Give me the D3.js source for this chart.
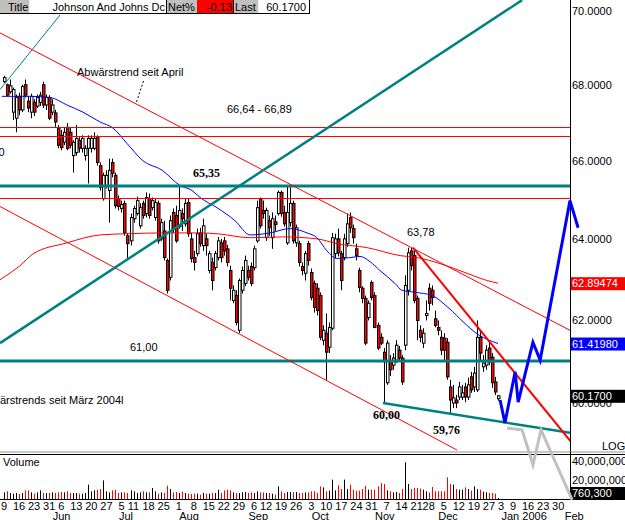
<!DOCTYPE html>
<html><head><meta charset="utf-8">
<script src="https://cdn.jsdelivr.net/npm/d3@7"></script>
<style>
body{margin:0;background:#fff}
svg{display:block}
text{font-family:"Liberation Sans",Arial,sans-serif;font-size:11px}
.serifb{font-family:"Liberation Serif","Times New Roman",serif;font-weight:bold;font-size:12px}
</style>
</head><body>
<svg id="c" width="625" height="520"></svg>
<script>
// ---------- DATA (trading-day index 0 = 9 May 2005) ----------
const opens = [68.08,68.00,67.81,67.27,67.11,67.69,67.33,68.00,67.56,67.27,67.53,67.43,67.53,68.00,67.46,67.66,67.27,67.25,66.85,66.66,
66.48,66.87,66.74,66.13,66.21,66.53,66.32,66.13,66.32,66.32,66.32,66.61,65.87,65.02,65.36,65.23,65.95,65.62,65.02,64.77,
64.90,64.08,63.95,64.51,64.64,64.33,64.90,64.64,65.02,64.79,64.54,64.90,64.00,64.20,63.46,63.04,64.67,64.59,64.31,64.64,
64.38,64.92,64.00,63.53,63.63,64.15,63.83,64.00,63.21,63.41,63.28,63.53,63.90,63.95,63.75,63.21,62.47,62.59,61.74,62.72,
62.89,63.21,63.31,63.28,63.95,65.00,64.72,64.03,64.46,64.03,64.43,64.64,65.18,64.67,63.90,64.41,64.90,63.90,63.88,63.31,
63.14,63.88,63.16,62.89,62.77,62.59,61.50,61.67,61.33,61.79,63.63,64.00,63.63,63.53,63.88,64.54,64.26,63.75,63.21,62.77,
62.52,62.05,62.91,62.59,61.86,61.57,61.21,60.48,60.98,60.90,61.02,61.26,61.07,61.38,62.72,63.70,63.58,62.52,61.74,61.43,
62.10,62.77,62.72,62.02,61.81,61.57,61.55,61.45,60.38,60.00,60.07,60.14,60.14,60.38,60.14,60.62,60.38,60.31,61.57,60.86,
60.90,61.31,61.09,60.50,60.10];
const highs = [68.24,68.03,68.14,67.92,67.74,67.79,68.00,68.14,67.69,67.76,67.61,67.74,67.81,68.08,67.74,67.72,67.61,67.33,66.93,66.80,
66.85,66.98,66.85,66.53,66.93,66.61,66.66,66.40,66.66,66.66,66.74,66.66,65.95,65.69,65.75,66.05,66.05,65.69,65.10,64.97,
64.97,64.15,64.64,64.84,65.07,64.90,64.97,65.18,65.15,65.05,65.02,64.97,64.51,64.46,63.51,64.59,64.77,64.84,65.36,64.77,
65.02,65.02,64.15,63.70,64.26,64.28,64.51,64.13,63.70,63.53,63.70,64.05,64.00,64.05,63.85,63.33,62.84,62.72,63.01,63.31,
63.58,63.33,63.41,63.83,64.97,65.05,64.97,64.79,64.59,64.67,64.59,65.23,65.23,64.84,65.36,65.36,64.97,64.36,63.95,63.41,
63.70,63.95,63.26,62.96,62.89,62.67,61.86,62.15,61.93,64.15,64.13,64.26,63.70,64.13,64.64,64.67,64.36,63.88,63.28,62.82,
62.59,62.47,62.96,62.67,61.93,61.67,61.31,61.50,61.14,61.19,61.50,61.36,61.14,63.09,63.78,63.78,63.70,62.59,61.86,61.79,
62.47,62.89,62.84,62.22,61.98,61.74,61.67,61.55,60.55,60.43,60.19,60.50,60.43,60.48,60.60,60.74,60.86,61.98,61.74,61.14,
61.38,61.45,61.19,60.62,60.19];
const lows = [68.05,67.69,67.76,67.06,66.74,67.19,67.27,67.66,67.27,67.11,67.17,67.38,67.43,67.38,67.33,67.06,67.19,66.87,66.32,66.27,
66.40,66.27,66.32,65.69,66.13,66.21,66.21,66.00,65.41,66.21,66.27,65.87,65.23,64.97,65.28,64.41,65.57,64.77,64.72,64.67,
64.08,63.51,63.83,64.41,64.59,64.26,64.51,64.54,64.51,64.72,64.46,63.88,63.95,63.46,62.64,62.96,64.15,63.90,64.26,64.20,
64.31,64.05,63.41,63.21,63.56,63.80,63.70,63.58,63.14,62.72,63.21,63.46,63.41,63.58,63.31,62.47,62.40,61.86,61.67,62.64,
62.82,62.96,62.82,63.21,63.90,64.26,64.51,63.95,64.08,63.75,64.20,64.59,64.56,64.31,63.85,64.31,63.88,63.80,63.31,63.09,
62.96,63.33,62.47,62.17,62.10,61.50,61.38,60.55,61.19,61.74,63.51,63.56,62.72,63.46,63.80,64.15,63.88,63.46,62.67,62.40,
61.38,61.98,62.47,61.79,61.26,61.38,60.00,60.43,60.64,60.79,60.95,60.98,60.43,61.26,62.59,63.21,62.40,61.50,61.45,61.31,
61.98,62.22,62.35,61.81,61.62,61.14,61.02,60.55,59.76,59.88,59.88,60.07,60.07,60.02,60.07,60.24,60.26,60.26,61.02,60.74,
60.79,60.90,60.36,60.19,60.05];
const closes = [68.19,67.72,67.97,67.87,67.66,67.33,67.95,67.72,67.38,67.69,67.27,67.66,67.72,67.46,67.66,67.11,67.46,67.01,66.40,66.34,
66.74,66.32,66.40,66.48,66.58,66.32,66.58,66.32,66.58,66.58,66.58,65.95,65.31,65.62,65.62,65.75,65.67,64.84,64.82,64.87,
64.15,63.88,64.54,64.77,64.97,64.79,64.59,65.05,64.59,64.97,64.92,63.95,64.41,63.53,62.72,64.46,64.26,63.95,64.72,64.51,
64.90,64.13,63.51,63.41,64.13,63.88,64.33,63.83,63.63,62.96,63.63,63.95,63.53,63.70,63.41,62.77,62.72,61.93,62.96,63.21,
63.46,63.04,62.89,63.75,64.79,64.33,64.64,64.72,64.28,64.51,64.36,65.18,64.64,64.38,64.67,64.90,63.95,64.28,63.41,63.21,
63.63,63.46,62.54,62.30,62.22,61.57,61.74,61.21,61.81,64.03,64.00,63.65,62.96,64.00,64.38,64.28,64.03,63.58,62.79,62.52,
61.43,62.40,62.54,61.81,61.31,61.43,60.98,61.43,60.79,61.07,61.38,61.07,60.50,62.84,63.65,63.33,62.47,61.98,61.57,61.67,
62.15,62.40,62.54,61.86,61.74,61.26,61.26,60.62,60.07,60.12,60.00,60.38,60.24,60.14,60.43,60.31,60.71,61.57,61.19,60.95,
61.26,60.98,60.48,60.26,60.17];
// volume in millions of shares
const volumes = [7.0,8.1,6.3,5.6,6.3,5.3,6.3,9.1,9.1,7.0,5.6,7.0,9.1,6.3,6.3,6.3,7.0,6.3,7.0,7.4,
7.0,8.1,6.3,6.3,6.3,5.6,5.6,6.3,15.1,8.1,9.1,9.8,10.5,19.6,8.1,7.0,9.1,9.8,6.3,7.0,
7.0,6.3,9.1,8.1,6.3,7.0,8.1,7.0,7.0,11.6,8.1,5.6,7.0,6.3,14.0,10.5,7.0,7.4,6.3,7.7,
6.3,5.6,5.3,5.6,5.6,4.6,6.3,5.6,5.6,6.3,6.3,9.8,6.3,9.1,9.8,9.1,7.0,6.3,6.3,7.0,
7.4,6.3,7.0,6.3,8.1,7.0,7.0,6.3,6.3,5.6,4.6,13.3,8.1,6.3,7.4,7.4,7.4,7.4,6.3,6.3,
7.0,7.0,8.1,8.1,6.3,13.3,12.3,8.1,8.8,20.4,9.1,14.4,10.5,20.4,10.5,15.1,9.8,8.8,8.8,10.5,
14.0,9.8,9.8,9.8,13.3,16.8,15.8,9.1,8.1,7.0,7.4,6.3,10.5,38.6,15.8,10.5,11.6,11.6,10.9,9.8,
8.1,7.0,12.6,8.1,8.1,8.1,8.1,22.8,15.8,15.1,10.5,9.8,9.8,12.3,10.5,8.8,13.3,10.5,9.8,7.7,
7.0,6.3,6.3,5.6,0.7603];
// moving averages: [trading-day index, price]
const maBlue = [[-0.7,67.69],[8.6,67.69],[15.3,67.66],[20.9,67.46],[26.2,67.27],[31.9,67.01],[36.2,66.85],[40.8,66.45],[46.1,66.00],
[52.5,65.75],[58.4,65.36],[62.4,65.23],[65.1,65.05],[70.7,64.79],[76.7,64.46],[81.7,64.10],[88.3,64.15],[95,64.26],[100.6,64.15],
[103.9,64.03],[107.2,63.70],[110.6,63.51],[114.9,63.53],[118.2,63.56],[121.5,63.43],[124.8,63.21],[129.8,62.89],[132.1,62.72],
[136.5,62.67],[142.1,62.59],[147.4,62.30],[153.1,61.90],[156.4,61.69],[164,61.4198]];
const maRed = [[-1.3,62.98],[5.3,63.33],[9.6,63.62],[20.9,63.90],[31.9,64.10],[40.8,64.13],[54.1,64.15],[65.1,64.15],[70.7,64.13],
[81.7,64.03],[92.6,64.05],[103.9,64.00],[110.6,63.88],[120.5,63.78],[131.5,63.58],[137.1,63.53],[144.8,63.38],[153.7,63.14],
[160.4,62.96],[164,62.89474]];
// horizontal levels
const redLevels = [66.89, 66.64, 65.03];
const tealLevels = [65.35, 61.00];
// drawn trendlines: [index, price] end points
const trendTealThin = [[-1.33,67.87],[18.6,69.89]];
const trendTealUp   = [[-1.33,61.43],[172,70.30]];
const trendRedUpper = [[-1.33,69.40],[187.9,61.74]];
const trendRedLower = [[-1.33,64.82],[150.4,58.90]];
const trendRedThick = [[135.8,63.78],[188.6,59.06]];
const trendTealLow  = [[125.8,60.00],[187.9,59.30]];
// projections
const projBlue = [[164.7,60.07],[166.3,59.53],[169.7,60.74],[170.7,60.02],[175.6,61.45],[178,61.02],[187.9,64.97],[190.6,64.28]];
const projGray = [[167,59.41],[172,59.37],[175.6,58.56],[178.3,59.37],[188.6,57.76]];
// axes
const priceTicks = [70,68,66,64,62,60];
const volTicks = [40,20];
const dayTickIdx = [0,5,10,15,19,24,29,34,39,43,48,53,58,63,68,73,78,83,87,92,97,102,107,112,117,122,127,132,137,141,146,151,156,161,165,169,174,179,184];
const dayTickLabels = ["9","16","23","31","6","13","20","27","5","11","18","25","1","8","15","22","29","6","12","19","26","3","10","17","24","31","7","14","21","28","5","12","19","27","3","9","16","23","30"];
const monthIdx = [16,38,58,81,102,123,144,165,186];
const monthLabels = ["Jun","Jul","Aug","Sep","Oct","Nov","Dec","Jan 2006","Feb"];
const header = {title:"Johnson And Johns Dc", net:"-0.13", last:"60.1700"};
const lastVolLabel = "760,300";

// ---------- DRAW ----------
const svg = d3.select('#c');
const x = d3.scaleLinear().domain([0,165]).range([4,501]);
const y = d3.scaleLog().domain([70,60]).range([11,403]);
const yv = d3.scaleLinear().domain([0,40]).range([499,461]);
const RED="#ff0000", TEAL="#008080", BLUE="#0000ff";
const line = d3.line().x(d=>x(d[0])).y(d=>y(d[1]));

svg.append('defs').append('clipPath').attr('id','plot')
  .append('rect').attr('x',0).attr('y',0).attr('width',570).attr('height',451);

const plot = svg.append('g').attr('clip-path','url(#plot)');

// candles
const n = closes.length;
const cg = plot.append('g');
for(let i=0;i<n;i++){
  const cx = Math.round(x(i));
  const up = closes[i] >= opens[i];
  cg.append('line').attr('x1',cx+0.5).attr('x2',cx+0.5)
    .attr('y1',y(highs[i])).attr('y2',y(lows[i])).attr('stroke','#000').attr('stroke-width',1);
  const top = y(Math.max(opens[i],closes[i])), bot = y(Math.min(opens[i],closes[i]));
  cg.append('rect').attr('x',cx-0.5).attr('width',2.5)
    .attr('y',top).attr('height',Math.max(1,bot-top))
    .attr('fill', up ? '#fff' : RED).attr('stroke','#000').attr('stroke-width',1);
}

// moving averages
plot.append('path').datum(maRed).attr('d',line.curve(d3.curveMonotoneX)).attr('fill','none').attr('stroke',RED).attr('stroke-width',1);
plot.append('path').datum(maBlue).attr('d',line.curve(d3.curveMonotoneX)).attr('fill','none').attr('stroke',BLUE).attr('stroke-width',1);
line.curve(d3.curveLinear);

// horizontal levels
redLevels.forEach(v=>{
  const yy = Math.round(y(v))+0.5;
  plot.append('line').attr('x1',0).attr('x2',570).attr('y1',yy).attr('y2',yy).attr('stroke',RED).attr('stroke-width',1);
});
tealLevels.forEach(v=>{
  const yy = Math.round(y(v));
  plot.append('line').attr('x1',0).attr('x2',570).attr('y1',yy).attr('y2',yy).attr('stroke',TEAL).attr('stroke-width',3);
});

// trendlines
const tl = (d,c,w)=>plot.append('path').datum(d).attr('d',line).attr('fill','none').attr('stroke',c).attr('stroke-width',w);
tl(trendTealThin,TEAL,1);
tl(trendRedUpper,RED,1);
tl(trendRedLower,RED,1);
tl(trendTealUp,TEAL,2.5);
tl(trendTealLow,TEAL,2.5);
tl(trendRedThick,RED,2);

// annotations
const T = (tx,ty,s,cls,anchor)=>svg.append('text').attr('x',tx).attr('y',ty).text(s)
   .attr('class',cls||null).attr('text-anchor',anchor||'start').attr('fill','#000');
T(77,76,"Abwärstrend seit April");
svg.append('line').attr('x1',143.5).attr('y1',81).attr('x2',136.5).attr('y2',102)
  .attr('stroke','#000').attr('stroke-width',1).attr('stroke-dasharray','2,2');
T(227,113,"66,64 - 66,89");
T(193,177,"65,35","serifb");
T(407,236,"63,78");
T(130,351,"61,00");
T(0,404,"ärstrends seit März 2004l");
T(4.5,156,"0",null,"end");
T(373,419,"60,00","serifb");
T(433,434,"59,76","serifb");

// panel separators
svg.append('line').attr('x1',0).attr('x2',625).attr('y1',452).attr('y2',452).attr('stroke','#c8c8c8').attr('stroke-width',2);
svg.append('line').attr('x1',0).attr('x2',625).attr('y1',454.5).attr('y2',454.5).attr('stroke','#000').attr('stroke-width',1);
svg.append('line').attr('x1',570.5).attr('x2',570.5).attr('y1',0).attr('y2',500).attr('stroke','#000').attr('stroke-width',1);
svg.append('line').attr('x1',0).attr('x2',570).attr('y1',499.5).attr('y2',499.5).attr('stroke','#000').attr('stroke-width',1);
T(602,450,"LOG");

// volume bars
for(let i=0;i<n;i++){
  const cx = Math.round(x(i))+0.5;
  svg.append('line').attr('x1',cx).attr('x2',cx).attr('y1',yv(0)).attr('y2',Math.min(yv(0)-1,yv(volumes[i])))
    .attr('stroke', closes[i] < opens[i] ? RED : '#000').attr('stroke-width',1);
}
T(3,466,"Volume");

// right price axis
priceTicks.forEach(v=>T(572,y(v)+4,v.toFixed(4)));
volTicks.forEach(v=>T(572,yv(v)+4,d3.format(",")(v*1e6)));
const box = (yy,bg,s)=>{
  svg.append('rect').attr('x',571).attr('y',yy-6).attr('width',54).attr('height',13).attr('fill',bg);
  svg.append('text').attr('x',572).attr('y',yy+4).text(s).attr('fill','#fff');
};
box(y(maRed[maRed.length-1][1]),RED,maRed[maRed.length-1][1].toFixed(5));
box(y(maBlue[maBlue.length-1][1]),BLUE,maBlue[maBlue.length-1][1].toFixed(5));
box(y(closes[n-1]),'#000',closes[n-1].toFixed(4));
box(Math.min(yv(volumes[n-1]),493),'#000',lastVolLabel);

// projections (unclipped, on top of the panel separators)
svg.append('path').datum(projGray).attr('d',line).attr('fill','none').attr('stroke','#c0c0c0').attr('stroke-width',3);
svg.append('path').datum(projBlue).attr('d',line).attr('fill','none').attr('stroke',BLUE).attr('stroke-width',3);

// x axis labels
dayTickIdx.forEach((d,k)=>T(x(d),510,dayTickLabels[k],null,'middle'));
monthIdx.forEach((d,k)=>T(x(d)+0.5,520,monthLabels[k]));

// header
const hdr = svg.append('g');
const cell=(x0,w,bg)=>hdr.append('rect').attr('x',x0).attr('y',0).attr('width',w).attr('height',13.5).attr('fill',bg);
cell(0,29.5,'#c0c0c0'); cell(29.5,137.5,'#fff'); cell(167,30,'#c0c0c0'); cell(197,36.5,RED);
cell(234,24.5,'#c0c0c0'); cell(258.5,51,'#fff');
T(8,11,"Title");
T(165,11,header.title,null,'end');
T(168,11,"Net%");
T(232,11,header.net,null,'end');
T(235,11,"Last");
T(306,11,header.last,null,'end');
[166.5,233.5].forEach(xx=>hdr.append('line').attr('x1',xx).attr('x2',xx).attr('y1',0).attr('y2',13.5).attr('stroke','#000'));
hdr.append('line').attr('x1',0).attr('x2',310).attr('y1',13.5).attr('y2',13.5).attr('stroke','#000');
hdr.append('line').attr('x1',309.5).attr('x2',309.5).attr('y1',0).attr('y2',14).attr('stroke','#000');
</script>
</body></html>
